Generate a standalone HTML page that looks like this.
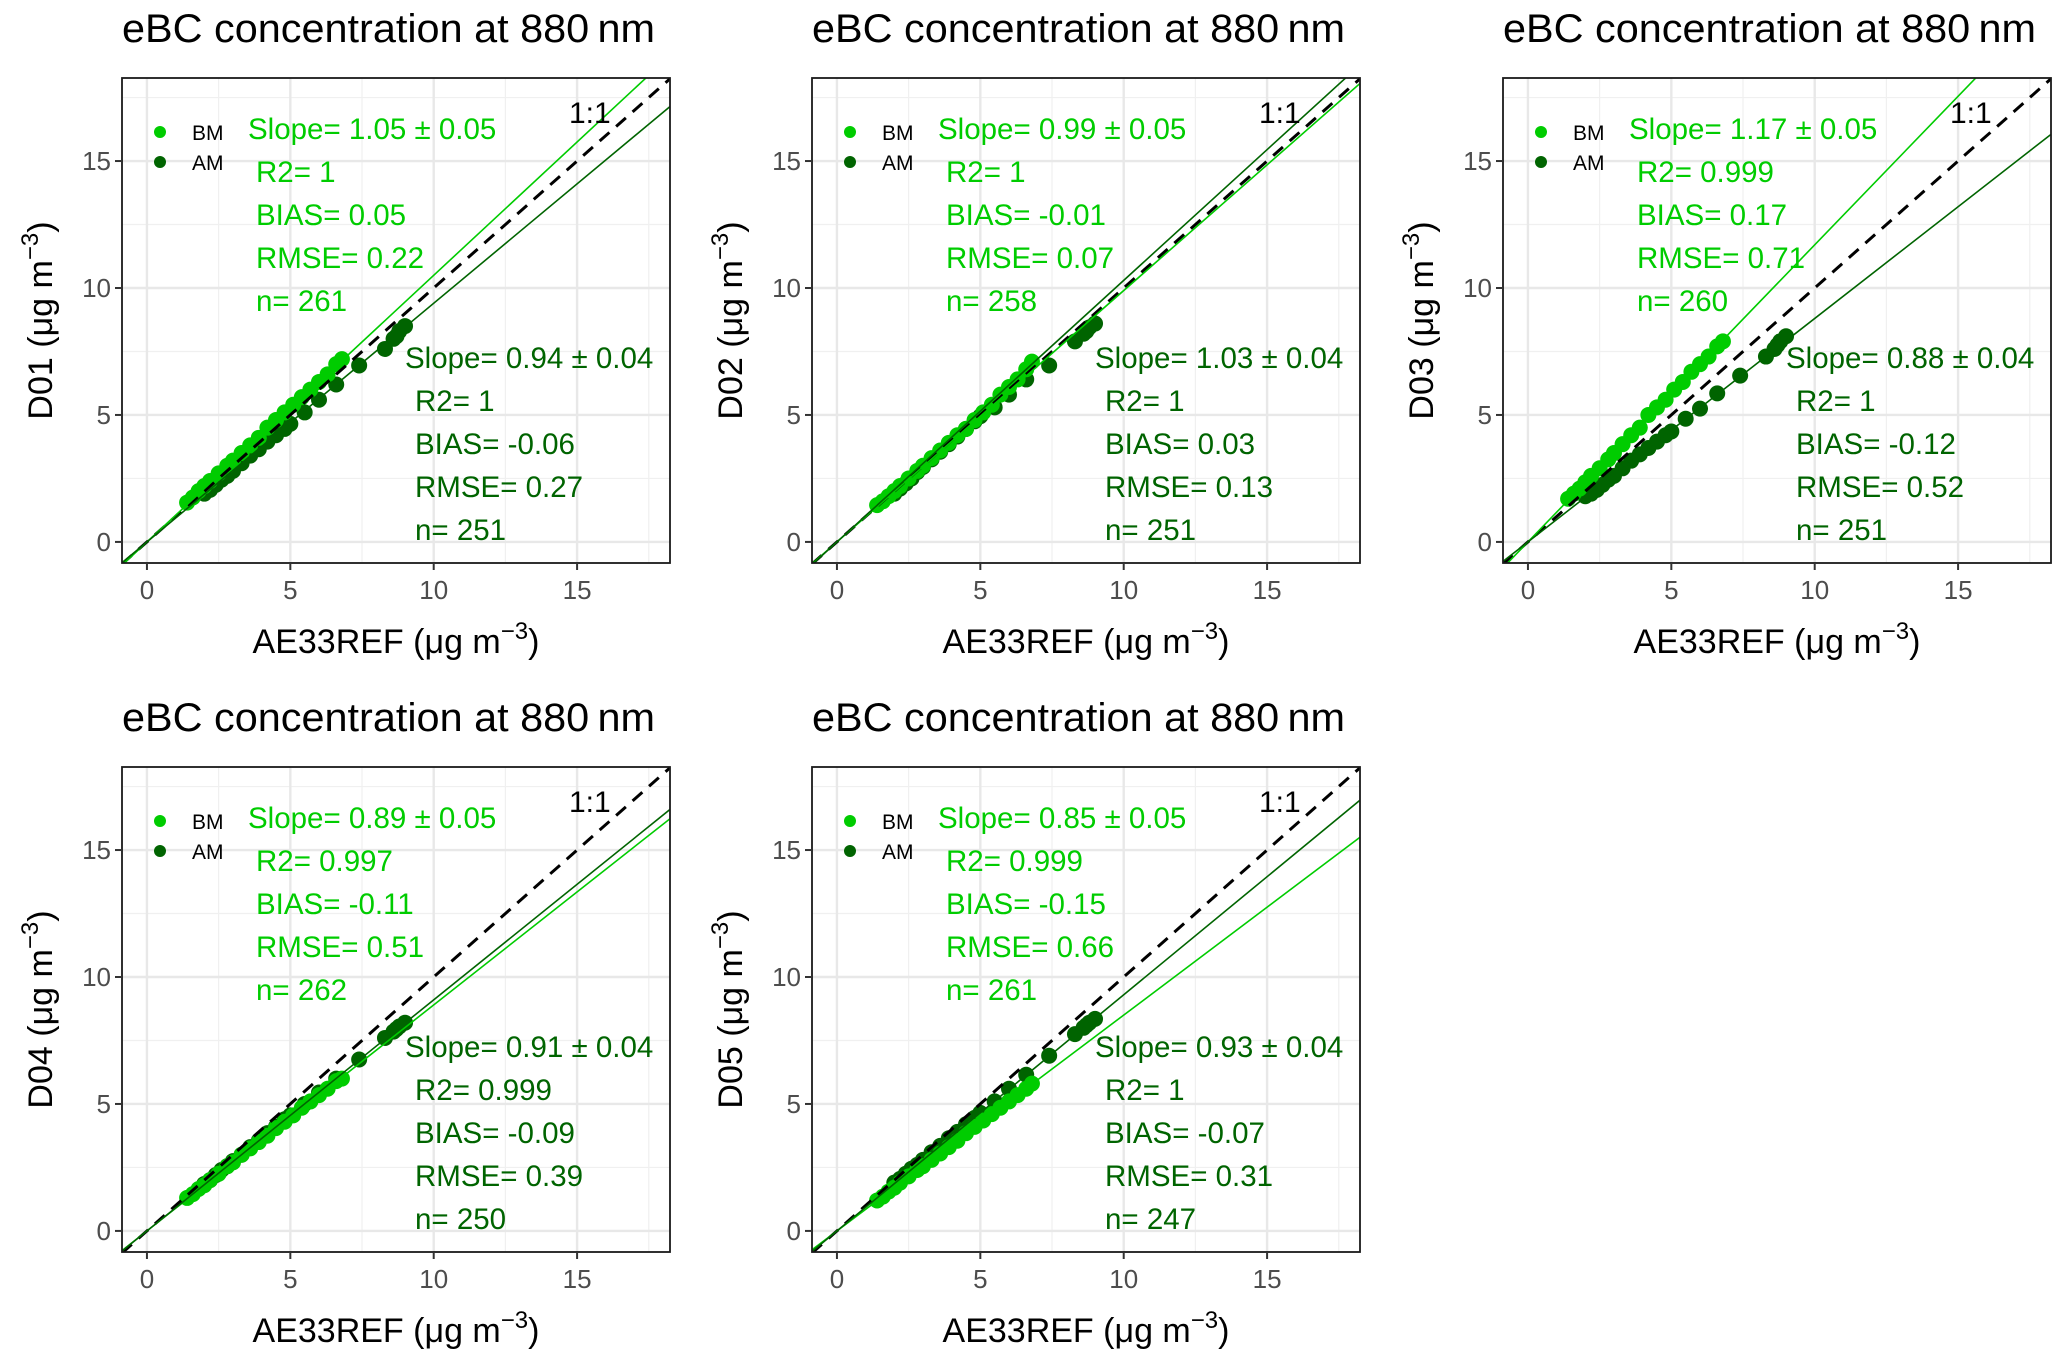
<!DOCTYPE html>
<html><head><meta charset="utf-8"><style>
html,body{margin:0;padding:0;background:#fff;}
svg{display:block;font-family:"Liberation Sans",Arial,sans-serif;}
</style></head><body>
<svg id="chart" width="2067" height="1359" viewBox="0 0 2067 1359" xmlns="http://www.w3.org/2000/svg"></svg>
<script>
const panelIds = ["D01","D02","D03","D04","D05"];
const bmSlopeText = ["1.05 ± 0.05","0.99 ± 0.05","1.17 ± 0.05","0.89 ± 0.05","0.85 ± 0.05"];
const amSlopeText = ["0.94 ± 0.04","1.03 ± 0.04","0.88 ± 0.04","0.91 ± 0.04","0.93 ± 0.04"];
const bmSlope = [1.05,0.99,1.17,0.89,0.85];
const amSlope = [0.94,1.03,0.88,0.91,0.93];
const bmR2 = ["1","1","0.999","0.997","0.999"];
const amR2 = ["1","1","1","0.999","1"];
const bmBias = ["0.05","-0.01","0.17","-0.11","-0.15"];
const amBias = ["-0.06","0.03","-0.12","-0.09","-0.07"];
const bmRmse = ["0.22","0.07","0.71","0.51","0.66"];
const amRmse = ["0.27","0.13","0.52","0.39","0.31"];
const bmN = ["261","258","260","262","261"];
const amN = ["251","251","251","250","247"];
const tickValues = [0,5,10,15];
const minorValues = [2.5,7.5,12.5,17.5];
const bmX = [1.4,1.6,1.8,2.0,2.2,2.5,2.8,3.0,3.3,3.6,3.9,4.2,4.5,4.8,5.1,5.4,5.7,6.0,6.3,6.6,6.8];
const amX = [2.0,2.2,2.4,2.6,2.8,3.0,3.3,3.6,3.9,4.2,4.5,4.8,5.0,5.5,6.0,6.6,7.4,8.3,8.6,8.7,8.8,9.0];
const bmY_D01 = [1.55,1.75,2.0,2.2,2.4,2.7,3.0,3.2,3.5,3.8,4.1,4.5,4.8,5.1,5.4,5.7,6.0,6.3,6.6,7.0,7.2];
const amY_D01 = [1.9,2.05,2.25,2.45,2.6,2.8,3.1,3.4,3.65,3.95,4.2,4.45,4.65,5.1,5.6,6.2,6.95,7.6,8.0,8.1,8.3,8.5];
const bmY_D02 = [1.45,1.6,1.8,2.0,2.2,2.5,2.8,3.0,3.3,3.6,3.9,4.2,4.45,4.8,5.1,5.4,5.8,6.1,6.4,6.8,7.1];
const amY_D02 = [1.9,2.1,2.3,2.5,2.75,2.95,3.25,3.55,3.85,4.15,4.45,4.75,4.95,5.3,5.8,6.4,6.95,7.9,8.2,8.3,8.45,8.6];
const bmY_D03 = [1.7,1.9,2.1,2.35,2.6,2.9,3.25,3.5,3.85,4.2,4.5,5.0,5.3,5.6,6.0,6.3,6.7,7.0,7.3,7.7,7.9];
const amY_D03 = [1.8,1.9,2.05,2.25,2.45,2.6,2.9,3.2,3.45,3.7,3.95,4.2,4.35,4.85,5.25,5.85,6.55,7.3,7.6,7.75,7.9,8.1];
const bmY_D04 = [1.3,1.45,1.65,1.8,2.0,2.25,2.55,2.7,3.0,3.25,3.5,3.75,4.05,4.3,4.55,4.85,5.1,5.35,5.6,5.9,6.0];
const amY_D04 = [1.85,2.0,2.2,2.4,2.55,2.75,3.0,3.3,3.55,3.85,4.1,4.4,4.55,5.0,5.45,6.0,6.75,7.6,7.85,7.95,8.05,8.2];
const bmY_D05 = [1.2,1.35,1.55,1.7,1.9,2.15,2.4,2.55,2.8,3.05,3.3,3.55,3.85,4.1,4.35,4.6,4.85,5.1,5.35,5.6,5.8];
const amY_D05 = [1.9,2.05,2.25,2.45,2.6,2.8,3.1,3.35,3.65,3.9,4.2,4.45,4.65,5.1,5.6,6.15,6.9,7.75,8.0,8.1,8.2,8.35];
const bmYs = [bmY_D01,bmY_D02,bmY_D03,bmY_D04,bmY_D05];
const amYs = [amY_D01,amY_D02,amY_D03,amY_D04,amY_D05];

const NS="http://www.w3.org/2000/svg";
const svg=document.getElementById('chart');
const BM="#00cc00", AM="#006400";
const PW=548, PH=485, XMIN=-0.87, XMAX=18.24, YMIN=-0.83, YMAX=18.27;
const colOff=[0,690,1381], rowOff=[0,689];
function mk(tag,attrs,parent){const e=document.createElementNS(NS,tag);for(const k in attrs)e.setAttribute(k,attrs[k]);(parent||svg).appendChild(e);return e;}

panelIds.forEach((id,i)=>{
  const L=122+colOff[i%3], T=78+rowOff[Math.floor(i/3)];
  const sx=v=>L+(v-XMIN)/(XMAX-XMIN)*PW;
  const sy=v=>T+PH-(v-YMIN)/(YMAX-YMIN)*PH;
  const g=mk('g',{});
  
  
  const title=mk('text',{x:L,y:T-36,'font-size':40,fill:'#000',textLength:533,lengthAdjust:'spacingAndGlyphs'},g);
  title.textContent='eBC concentration at 880\u2009nm';
  
  
  const cid='clip'+i;
  const cp=mk('clipPath',{id:cid},g); mk('rect',{x:L,y:T,width:PW,height:PH},cp);
  const grid=mk('g',{},g);
  
  
  minorValues.forEach(v=>{
    mk('line',{x1:sx(v),x2:sx(v),y1:T,y2:T+PH,stroke:'#f0f0f0','stroke-width':1.2},grid);
    mk('line',{x1:L,x2:L+PW,y1:sy(v),y2:sy(v),stroke:'#f0f0f0','stroke-width':1.2},grid);
  });
  tickValues.forEach(v=>{
    mk('line',{x1:sx(v),x2:sx(v),y1:T,y2:T+PH,stroke:'#e8e8e8','stroke-width':2.4},grid);
    mk('line',{x1:L,x2:L+PW,y1:sy(v),y2:sy(v),stroke:'#e8e8e8','stroke-width':2.4},grid);
  });
  const plot=mk('g',{'clip-path':'url(#'+cid+')'},g);
  const ams=amYs[i], bms=bmYs[i];
  amX.forEach((x,j)=>{const c=mk('circle',{cx:sx(x),cy:sy(ams[j]),r:8,fill:AM},plot);
    
    });
  bmX.forEach((x,j)=>{const c=mk('circle',{cx:sx(x),cy:sy(bms[j]),r:8,fill:BM},plot);
    
    });
  const l1=mk('line',{x1:sx(XMIN),y1:sy(XMIN),x2:sx(XMAX+1),y2:sy(XMAX+1),stroke:'#000','stroke-width':3,'stroke-dasharray':'13,9'},plot);
  
  
  const lb=mk('line',{x1:sx(-1),y1:sy(-1*bmSlope[i]),x2:sx(20),y2:sy(20*bmSlope[i]),stroke:BM,'stroke-width':1.6},plot);
  
  
  const la=mk('line',{x1:sx(-1),y1:sy(-1*amSlope[i]),x2:sx(20),y2:sy(20*amSlope[i]),stroke:AM,'stroke-width':1.6},plot);
  
  
  const border=mk('rect',{x:L,y:T,width:PW,height:PH,fill:'none',stroke:'#1a1a1a','stroke-width':1.8},g);
  
  
  tickValues.forEach(v=>{
    mk('line',{x1:sx(v),x2:sx(v),y1:T+PH,y2:T+PH+7,stroke:'#333','stroke-width':2},g);
    const tx=mk('text',{x:sx(v),y:T+PH+36,'font-size':26,fill:'#4d4d4d','text-anchor':'middle'},g);
    tx.textContent=v;  
    mk('line',{x1:L-7,x2:L,y1:sy(v),y2:sy(v),stroke:'#333','stroke-width':2},g);
    const ty=mk('text',{x:L-11,y:sy(v)+9,'font-size':26,fill:'#4d4d4d','text-anchor':'end'},g);
    ty.textContent=v;  
  });
  const xt=mk('text',{x:L+PW/2,y:T+PH+90,'font-size':34,fill:'#000','text-anchor':'middle'},g);
  xt.innerHTML='AE33REF (μg m<tspan dy="-14" font-size="24">−3</tspan><tspan dy="14">)</tspan>';
   
  const yt=mk('text',{x:0,y:0,'font-size':34,fill:'#000','text-anchor':'middle',transform:`translate(${L-70},${T+PH/2}) rotate(-90)`},g);
  yt.innerHTML=id+' (μg m<tspan dy="-14" font-size="24">−3</tspan><tspan dy="14">)</tspan>';
   
  const oneTxt=mk('text',{x:L+447,y:T+45,'font-size':30,fill:'#000'},g);
  oneTxt.textContent='1:1';  
  const leg=mk('g',{},g);
  
  
  mk('circle',{cx:L+38,cy:T+54,r:6,fill:BM},leg);
  const t1=mk('text',{x:L+70,y:T+62,'font-size':21,fill:'#000'},leg); t1.textContent='BM';
  mk('circle',{cx:L+38,cy:T+84,r:6,fill:AM},leg);
  const t2=mk('text',{x:L+70,y:T+92,'font-size':21,fill:'#000'},leg); t2.textContent='AM';
  const bmLines=['Slope= '+bmSlopeText[i],'R2= '+bmR2[i],'BIAS= '+bmBias[i],'RMSE= '+bmRmse[i],'n= '+bmN[i]];
  const amLines=['Slope= '+amSlopeText[i],'R2= '+amR2[i],'BIAS= '+amBias[i],'RMSE= '+amRmse[i],'n= '+amN[i]];
  const bs=mk('g',{},g);
  
  
  bmLines.forEach((s,k)=>{const t=mk('text',{x:L+(k?134:126),y:T+61+k*43,'font-size':29.5,fill:BM},bs);t.textContent=s;});
  const as=mk('g',{},g);
  
  
  amLines.forEach((s,k)=>{const t=mk('text',{x:L+(k?293:283),y:T+290+k*43,'font-size':29.5,fill:AM},as);t.textContent=s;});
});
</script>
</body></html>
